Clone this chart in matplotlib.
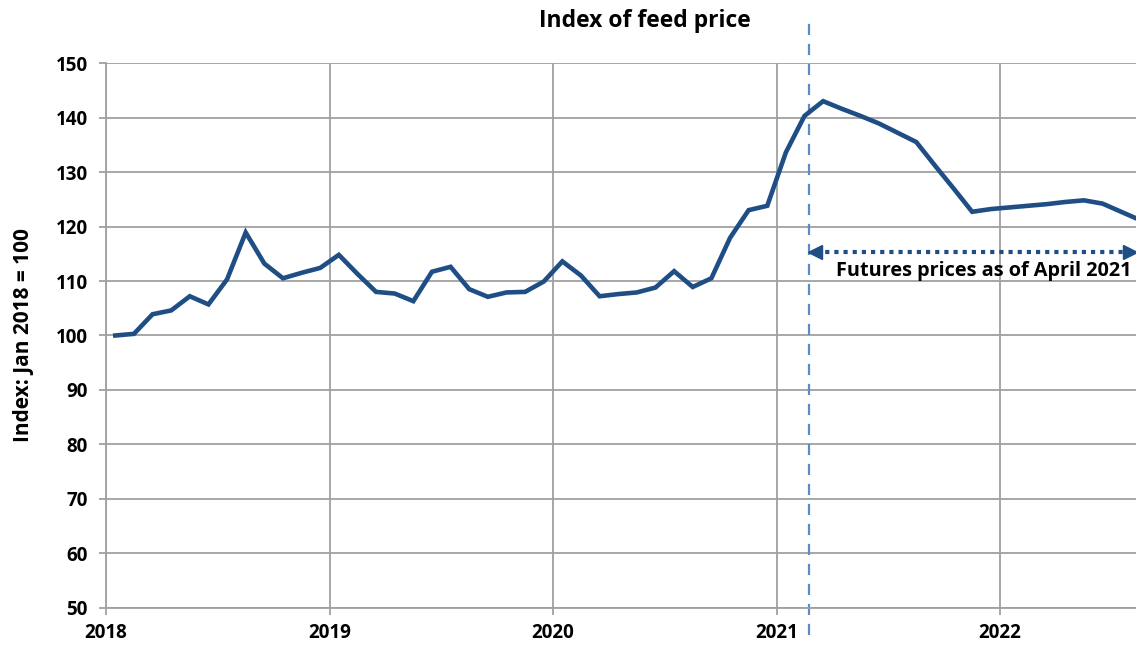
import matplotlib
matplotlib.use('Agg')
import matplotlib.pyplot as plt
import numpy as np

plt.rcParams['font.family'] = ['Open Sans', 'DejaVu Sans']
plt.rcParams['font.weight'] = 'bold'

# monthly index, Jan 2018 .. Aug 2022 (futures from Mar 2021 on)
idx_2018 = [100.0, 100.3, 103.9, 104.6, 107.2, 105.7, 110.3, 118.9, 113.2, 110.5, 111.5, 112.4]
idx_2019 = [114.8, 111.3, 108.0, 107.7, 106.3, 111.7, 112.6, 108.5, 107.1, 107.9, 108.0, 109.9]
idx_2020 = [113.6, 111.0, 107.2, 107.6, 107.9, 108.8, 111.8, 108.9, 110.5, 117.9, 123.0, 123.8]
idx_2021 = [133.6, 140.3, 143.0, 141.6, 140.3, 138.9, 137.2, 135.5, 131.2, 127.0, 122.7, 123.2]
idx_2022 = [123.5, 123.8, 124.1, 124.5, 124.8, 124.2, 122.7, 121.2]

index_vals = idx_2018 + idx_2019 + idx_2020 + idx_2021 + idx_2022
# mid-month positions in decimal years
months = np.arange(len(index_vals))
dates = 2018 + (months + 0.5) / 12

year_ticks = [2018, 2019, 2020, 2021, 2022]
y_ticks = list(range(50, 151, 10))
cutoff = 2021.147
x_end = 2022.608
arrow_y = 115.4
futures_label = 'Futures prices as of April 2021'

fig = plt.figure(figsize=(11.36, 6.45), dpi=100)
ax = fig.add_axes([0.0933, 0.0574, 0.9067, 0.8449])

line_col = '#1f4e85'
grid_col = '#a0a0a0'

ax.plot(dates, index_vals, color=line_col, lw=3.3, solid_joinstyle='miter', zorder=3)

ax.set_xlim(2018, x_end)
ax.set_ylim(50, 150)
ax.set_xticks(year_ticks)
ax.set_yticks(y_ticks)
ax.grid(True, color=grid_col, lw=1.3)
ax.set_axisbelow(True)
for s in ['top', 'right']:
    ax.spines[s].set_visible(False)
ax.spines['left'].set_color(grid_col)
ax.spines['bottom'].set_color(grid_col)
ax.spines['left'].set_linewidth(1.3)
ax.spines['bottom'].set_linewidth(1.3)
ax.tick_params(axis='both', colors=grid_col, length=5, width=1.3, labelcolor='black', labelsize=13.5)
ax.tick_params(axis='y', pad=8)
ax.tick_params(axis='x', pad=6)

ax.set_ylabel('Index: Jan 2018 = 100', fontsize=15, fontweight='bold', labelpad=16)
fig.text(0.568, 0.967, 'Index of feed price', ha='center', va='center', fontsize=16.5, fontweight='bold')

# forecast cutoff line
ax.plot([cutoff, cutoff], [45, 158], color='#5b8cc8', lw=1.6, ls=(0, (5, 4)), clip_on=False, zorder=2)

# dotted double arrow for the futures period
ax.plot([cutoff + 0.03, x_end - 0.03], [arrow_y, arrow_y], color=line_col, lw=3, ls=(0, (1, 1.2)), zorder=3)
ax.plot([cutoff + 0.025], [arrow_y], marker='<', color=line_col, ms=10, clip_on=False, zorder=4)
ax.plot([x_end - 0.025], [arrow_y], marker='>', color=line_col, ms=10, clip_on=False, zorder=4)

ax.text(2021.265, 113.6, futures_label, fontsize=14.3, fontweight='bold', va='top', ha='left')

fig.savefig('out.png', dpi=100)
